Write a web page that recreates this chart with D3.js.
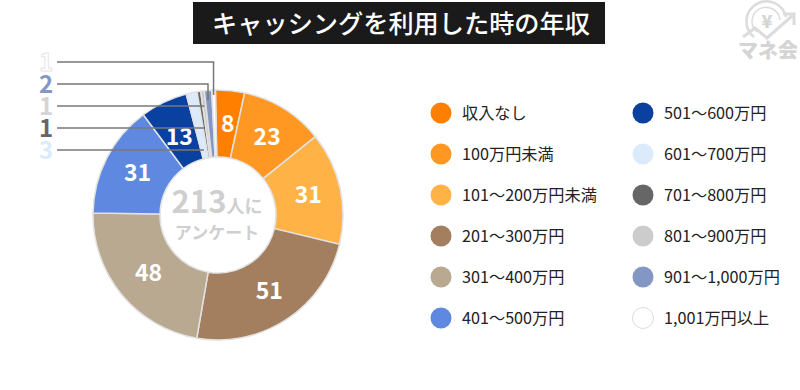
<!DOCTYPE html>
<html>
<head>
<meta charset="utf-8">
<script src="https://d3js.org/d3.v7.min.js"></script>
<style>
body { margin: 0; background: #fff; }
svg { display: block; }
text { font-family: "Noto Sans CJK JP", sans-serif; }
</style>
</head>
<body>
<svg width="800" height="390"></svg>
<script>
const categories = ["収入なし", "100万円未満", "101～200万円未満", "201～300万円", "301～400万円", "401～500万円",
    "501～600万円", "601～700万円", "701～800万円", "801～900万円", "901～1,000万円", "1,001万円以上"];
const values = [8, 23, 31, 51, 48, 31, 13, 3, 1, 1, 2, 1];
const colors = ["#ff7f00", "#ff9822", "#ffb347", "#a37f5f", "#b8a990", "#5f88e0",
    "#0a41a0", "#dcebfb", "#666666", "#cccccc", "#8497c4", "#ffffff"];
const title = "キャッシングを利用した時の年収";
const centerTop = ["213", "人に"];
const centerBottom = "アンケート";

const svg = d3.select("svg");
const cx = 218, cy = 215, outerR = 125, innerR = 58;
const rotation = -1.2 * Math.PI / 180;

// タイトル
svg.append("rect").attr("x", 193).attr("y", 2).attr("width", 412).attr("height", 42).attr("fill", "#1a1a1a");
svg.append("text").attr("x", 401).attr("y", 33).attr("text-anchor", "middle")
    .attr("font-size", 25.2).attr("font-weight", 500).attr("fill", "#fff").text(title);

// 円グラフ
const pie = d3.pie().value(d => d).sort(null).startAngle(rotation).endAngle(2 * Math.PI + rotation);
const arcs = pie(values);
const arc = d3.arc().innerRadius(innerR).outerRadius(outerR);
const g = svg.append("g").attr("transform", `translate(${cx}, ${cy})`);

g.selectAll("path")
    .data(arcs)
    .enter()
    .append("path")
    .attr("d", arc)
    .attr("fill", (d, i) => colors[i])
    .attr("stroke", "#e2e2e2")
    .attr("stroke-width", 1.5);

// 大きいスライスの数値
g.selectAll(".val")
    .data(arcs.filter(d => d.value >= 8))
    .enter()
    .append("text")
    .attr("class", "val")
    .attr("x", d => arc.centroid(d)[0] + 1)
    .attr("y", d => arc.centroid(d)[1] + (d.value === 13 ? 12 : 8))
    .attr("text-anchor", "middle")
    .attr("font-size", 23)
    .attr("font-weight", 700)
    .attr("fill", "#fff")
    .text(d => d.value);

// 小さいスライスの引き出し線
const smallIdx = [11, 10, 9, 8, 7];
const labelColors = ["#ffffff", "#8497c4", "#d4d4d4", "#666666", "#dcebfb"];
const labelScale = d3.scalePoint().domain(smallIdx).range([62, 150]);
const lineColor = "#777777";

smallIdx.forEach((idx, i) => {
    const a = arcs[idx];
    const mid = (a.startAngle + a.endAngle) / 2;
    const y = labelScale(idx);
    let path;
    if (i < 2) {
        // 上の2本は折れ線
        const r = i === 0 ? 120 : 115;
        path = `M57,${y}H${cx + Math.sin(mid) * outerR}V${cy - Math.cos(mid) * r}`;
    } else {
        // スライスの中心線と水平線の交点
        path = `M57,${y}H${cx + Math.tan(mid) * (cy - y)}`;
    }
    svg.append("path").attr("d", path).attr("fill", "none").attr("stroke", lineColor).attr("stroke-width", 1.5);

    svg.append("text")
        .attr("x", 46).attr("y", y + 9)
        .attr("text-anchor", "middle")
        .attr("font-size", 24).attr("font-weight", 700)
        .attr("fill", labelColors[i])
        .attr("stroke", i === 0 ? "#e6e6e6" : "none")
        .text(a.value);
});

// 中央のテキスト
const centerText = svg.append("text").attr("x", 217).attr("y", 213).attr("text-anchor", "middle")
    .attr("fill", "#cfcfcf").attr("font-weight", 700);
centerText.append("tspan").attr("font-size", 31).text(centerTop[0]);
centerText.append("tspan").attr("font-size", 18).text(centerTop[1]);
svg.append("text").attr("x", 217).attr("y", 239).attr("text-anchor", "middle")
    .attr("fill", "#cfcfcf").attr("font-weight", 700).attr("font-size", 17).text(centerBottom);

// 凡例
const legendX = [441, 643];
const legendY = d3.scalePoint().domain(d3.range(6)).range([113, 318]);
const legend = svg.selectAll(".legend")
    .data(categories)
    .enter()
    .append("g")
    .attr("class", "legend")
    .attr("transform", (d, i) => `translate(${legendX[Math.floor(i / 6)]}, ${legendY(i % 6)})`);
legend.append("circle")
    .attr("r", 10.5)
    .attr("fill", (d, i) => colors[i])
    .attr("stroke", (d, i) => i === 11 ? "#dddddd" : "none");
legend.append("text")
    .attr("x", 21).attr("y", 6)
    .attr("font-size", 16.2)
    .attr("fill", "#222222")
    .text(d => d);

// ロゴ
const logo = svg.append("g").attr("fill", "none").attr("stroke", "#dcdcdc");
logo.append("path").attr("stroke-width", 2.5).attr("d", "M754,37 A20,20 0 1 1 786,17");
logo.append("path").attr("stroke-width", 1.5).attr("d", "M757,32 A14,14 0 1 1 780,20");
logo.append("path").attr("stroke-width", 3).attr("d", "M743,37 L755,28 L767,38 L792,16 M783,14 H794 V25");
svg.append("text").attr("x", 767).attr("y", 28).attr("text-anchor", "middle")
    .attr("font-size", 18).attr("font-weight", 900).attr("fill", "#d4d4d4").text("¥");
svg.append("text").attr("x", 768).attr("y", 58).attr("text-anchor", "middle")
    .attr("font-size", 20).attr("font-weight", 900).attr("fill", "#d4d4d4").text("マネ会");
</script>
</body>
</html>
